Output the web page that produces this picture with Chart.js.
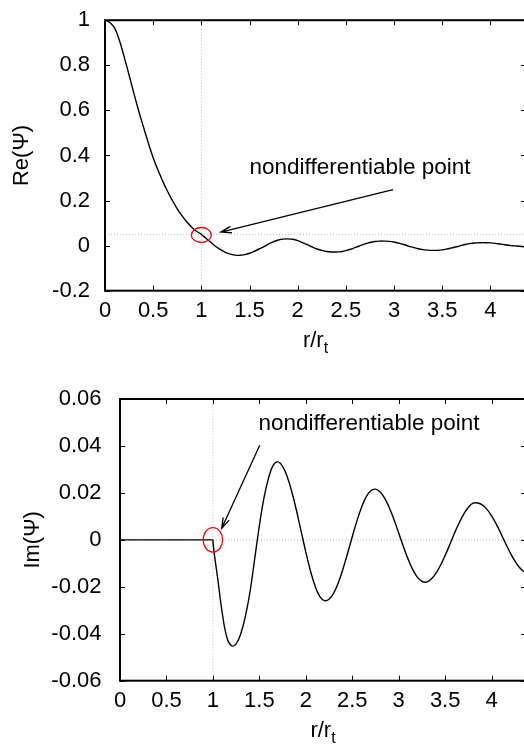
<!DOCTYPE html>
<html>
<head>
<meta charset="utf-8">
<script src="https://cdn.jsdelivr.net/npm/chart.js@4.4.0/dist/chart.umd.min.js"></script>
<style>
html, body { margin: 0; padding: 0; background: #fff; overflow: hidden; }
body { width: 524px; height: 748px; position: relative; }
canvas { position: absolute; left: 0; }
#reChart { top: 0; }
#imChart { top: 370px; }
</style>
</head>
<body>
<canvas id="reChart" width="527" height="370"></canvas>
<canvas id="imChart" width="527" height="378"></canvas>
<script>
// r/r_t grid of the real part
const reR = [0, 0.05, 0.1, 0.15, 0.2, 0.25, 0.3, 0.35, 0.4, 0.45, 0.5, 0.55, 0.6, 0.65, 0.7, 0.75, 0.8, 0.85, 0.9, 0.95,
  1, 1.05, 1.1, 1.15, 1.2, 1.25, 1.3, 1.35, 1.4, 1.45, 1.5, 1.55, 1.6, 1.65, 1.7, 1.75, 1.8, 1.85, 1.9, 1.95,
  2, 2.05, 2.1, 2.15, 2.2, 2.25, 2.3, 2.35, 2.4, 2.45, 2.5, 2.55, 2.6, 2.65, 2.7, 2.75, 2.8, 2.85, 2.9, 2.95,
  3, 3.05, 3.1, 3.15, 3.2, 3.25, 3.3, 3.35, 3.4, 3.45, 3.5, 3.55, 3.6, 3.65, 3.7, 3.75, 3.8, 3.85, 3.9, 3.95,
  4, 4.05, 4.1, 4.15, 4.2, 4.25, 4.3, 4.35];
// Re(Psi)
const reVals = [1, 0.99, 0.965, 0.91, 0.835, 0.757, 0.675, 0.597, 0.525, 0.455, 0.39, 0.335, 0.285, 0.24, 0.2, 0.163, 0.132, 0.105, 0.082, 0.064,
  0.05, 0.032, 0.014, -0.004, -0.018, -0.03, -0.038, -0.042, -0.043, -0.04, -0.034, -0.025, -0.015, -0.004, 0.008, 0.018, 0.025, 0.029, 0.03, 0.028,
  0.022, 0.013, 0.004, -0.006, -0.015, -0.021, -0.026, -0.028, -0.028, -0.027, -0.022, -0.016, -0.008, 0, 0.008, 0.014, 0.018, 0.02, 0.02, 0.019,
  0.016, 0.011, 0.005, -0.002, -0.008, -0.014, -0.018, -0.02, -0.021, -0.021, -0.019, -0.015, -0.01, -0.005, 0.001, 0.006, 0.01, 0.012, 0.013, 0.013,
  0.012, 0.01, 0.007, 0.004, 0.001, -0.001, -0.003, -0.005];

// r/r_t grid of the imaginary part (first 3 points: flat part up to r = r_t)
const imR = [0, 0.5, 1, 1.01, 1.05, 1.1, 1.15, 1.2, 1.25, 1.3, 1.35, 1.4, 1.45, 1.5, 1.55, 1.6, 1.65, 1.7, 1.75, 1.8, 1.85, 1.9, 1.95,
  2, 2.05, 2.1, 2.15, 2.2, 2.25, 2.3, 2.35, 2.4, 2.45, 2.5, 2.55, 2.6, 2.65, 2.7, 2.75, 2.8, 2.85, 2.9, 2.95,
  3, 3.05, 3.1, 3.15, 3.2, 3.25, 3.3, 3.35, 3.4, 3.45, 3.5, 3.55, 3.6, 3.65, 3.7, 3.75, 3.8, 3.85, 3.9, 3.95,
  4, 4.05, 4.1, 4.15, 4.2, 4.25, 4.3, 4.35];
// Im(Psi)
const imVals = [0, 0, 0, -0.0045, -0.016, -0.031, -0.0415, -0.0451, -0.0443, -0.04, -0.0325, -0.022, -0.008, 0.006, 0.018, 0.0265, 0.0318, 0.0332, 0.0313, 0.0269, 0.0204, 0.0124, 0.0036,
  -0.0052, -0.0132, -0.0197, -0.0241, -0.0259, -0.0253, -0.0227, -0.0183, -0.0124, -0.0057, 0.0013, 0.0081, 0.0139, 0.0183, 0.0209, 0.0216, 0.0204, 0.0177, 0.0136, 0.0086,
  0.0029, -0.0028, -0.0081, -0.0126, -0.0159, -0.0177, -0.018, -0.0167, -0.0143, -0.0108, -0.0066, -0.002, 0.0028, 0.0072, 0.011, 0.0139, 0.0156, 0.0157, 0.0149, 0.013,
  0.0102, 0.0067, 0.0027, -0.0015, -0.0055, -0.009, -0.0118, -0.0137];

// tick labels
const xTicks = [0, 0.5, 1, 1.5, 2, 2.5, 3, 3.5, 4];
const reYTicks = [-0.2, 0, 0.2, 0.4, 0.6, 0.8, 1];
const imYTicks = [-0.06, -0.04, -0.02, 0, 0.02, 0.04, 0.06];

// dotted guide lines
const guideR = 1;
const reGuideY = 0.05;
const imGuideY = 0;

const FONT = "'Liberation Sans', Arial, Helvetica, sans-serif";

function pts(xs, ys) {
  return xs.map((x, i) => ({x: x, y: ys[i]}));
}

// gnuplot like frame with inward ticks on all four sides
const framePlugin = {
  id: 'frame',
  afterDatasetsDraw(chart, args, opts) {
    const {ctx, chartArea: a, scales: {x, y}} = chart;
    ctx.save();
    ctx.strokeStyle = '#000';
    ctx.lineWidth = 1;
    ctx.beginPath();
    for (const v of xTicks) {
      const px = Math.round(x.getPixelForValue(v)) + 0.5;
      ctx.moveTo(px, a.bottom); ctx.lineTo(px, a.bottom - 5);
      ctx.moveTo(px, a.top); ctx.lineTo(px, a.top + 5);
    }
    for (const v of opts.yTicks) {
      const py = Math.round(y.getPixelForValue(v)) + 0.5;
      ctx.moveTo(a.left, py); ctx.lineTo(a.left + 5, py);
      ctx.moveTo(a.right, py); ctx.lineTo(a.right - 5, py);
    }
    ctx.stroke();
    ctx.lineWidth = 2;
    ctx.strokeRect(a.left, a.top, a.right - a.left, a.bottom - a.top);
    ctx.restore();
  }
};

// axis titles, note text, arrow and red marker
const notePlugin = {
  id: 'note',
  afterDraw(chart, args, o) {
    const {ctx, chartArea: a, scales: {x, y}} = chart;
    ctx.save();
    ctx.fillStyle = '#000';

    // y title
    ctx.save();
    ctx.translate(o.yTitleX, (a.top + a.bottom) / 2);
    ctx.rotate(-Math.PI / 2);
    ctx.font = '22px ' + FONT;
    ctx.textAlign = 'center';
    ctx.textBaseline = 'middle';
    ctx.fillText(o.yTitle, 0, 0);
    ctx.restore();

    // x title r/r_t
    ctx.font = '22px ' + FONT;
    const w1 = ctx.measureText('r/r').width;
    ctx.font = '16px ' + FONT;
    const w2 = ctx.measureText('t').width;
    let x0 = (a.left + a.right) / 2 - (w1 + w2) / 2;
    ctx.textAlign = 'left';
    ctx.textBaseline = 'alphabetic';
    ctx.font = '22px ' + FONT;
    ctx.fillText('r/r', x0, o.xTitleY);
    ctx.font = '16px ' + FONT;
    ctx.fillText('t', x0 + w1, o.xTitleY + 6);

    // note text
    ctx.font = '22.5px ' + FONT;
    ctx.fillText('nondifferentiable point', x.getPixelForValue(o.text[0]), y.getPixelForValue(o.text[1]));

    // arrow
    const sx = x.getPixelForValue(o.arrow[0]), sy = y.getPixelForValue(o.arrow[1]);
    const ex = x.getPixelForValue(o.arrow[2]), ey = y.getPixelForValue(o.arrow[3]);
    const ang = Math.atan2(ey - sy, ex - sx);
    ctx.strokeStyle = '#000';
    ctx.lineWidth = 1.3;
    ctx.beginPath();
    ctx.moveTo(sx, sy); ctx.lineTo(ex, ey);
    ctx.moveTo(ex - 11 * Math.cos(ang - 0.3), ey - 11 * Math.sin(ang - 0.3));
    ctx.lineTo(ex, ey);
    ctx.lineTo(ex - 11 * Math.cos(ang + 0.3), ey - 11 * Math.sin(ang + 0.3));
    ctx.stroke();

    // red ellipse
    ctx.strokeStyle = '#f00';
    ctx.beginPath();
    ctx.ellipse(x.getPixelForValue(o.ring[0]), y.getPixelForValue(o.ring[1]), o.ring[2], o.ring[3], 0, 0, Math.PI * 2);
    ctx.stroke();
    ctx.restore();
  }
};

function curve(data, tension) {
  return {
    data: data,
    borderColor: '#000',
    borderWidth: 1.4,
    pointRadius: 0,
    tension: tension,
    fill: false
  };
}

function guide(data) {
  return {
    data: data,
    borderColor: '#b8b8b8',
    borderWidth: 1,
    borderDash: [1, 2],
    pointRadius: 0
  };
}

function makeChart(id, c) {
  const ctx = document.getElementById(id).getContext('2d');
  const all = pts(c.xs, c.ys);
  const sets = c.flatCount
    ? [curve(all.slice(0, c.flatCount), 0), curve(all.slice(c.flatCount - 1), 0.4)]
    : [curve(all, 0.4)];
  sets.push(guide([{x: guideR, y: c.yMin}, {x: guideR, y: c.yMax}]));
  sets.push(guide([{x: 0, y: c.guideY}, {x: c.xMax, y: c.guideY}]));
  return new Chart(ctx, {
    type: 'line',
    data: {datasets: sets},
    options: {
      responsive: false,
      animation: false,
      devicePixelRatio: 1,
      layout: {padding: {top: c.padTop, right: 1, left: 0, bottom: 0}},
      plugins: {
        legend: {display: false},
        tooltip: {enabled: false},
        frame: {yTicks: c.yTicks},
        note: c.note
      },
      scales: {
        x: {
          type: 'linear',
          min: 0,
          max: c.xMax,
          afterBuildTicks: s => { s.ticks = xTicks.map(v => ({value: v})); },
          afterFit: s => { s.height = c.xAxisHeight; },
          grid: {display: false},
          border: {display: false},
          ticks: {
            color: '#000',
            font: {family: FONT, size: 22},
            padding: c.xPad,
            maxRotation: 0,
            autoSkip: false,
            callback: v => String(v)
          }
        },
        y: {
          type: 'linear',
          min: c.yMin,
          max: c.yMax,
          afterBuildTicks: s => { s.ticks = c.yTicks.map(v => ({value: v})); },
          afterFit: s => { s.width = c.yAxisWidth; },
          grid: {display: false},
          border: {display: false},
          ticks: {
            color: '#000',
            font: {family: FONT, size: 22},
            padding: c.yPad,
            autoSkip: false,
            callback: v => String(v)
          }
        }
      }
    },
    plugins: [framePlugin, notePlugin]
  });
}

makeChart('reChart', {
  xs: reR, ys: reVals, yTicks: reYTicks,
  yMin: -0.2, yMax: 1, xMax: 4.37, guideY: reGuideY,
  padTop: 8.7, xAxisHeight: 79.3, yAxisWidth: 105, xPad: -1, yPad: 7,
  note: {
    yTitle: 'Re(\u03A8)', yTitleX: 22, xTitleY: 346.7,
    text: [1.5, 0.319],
    arrow: [2.99, 0.248, 1.203, 0.06],
    ring: [1, 0.047, 10, 7.5]
  }
});

makeChart('imChart', {
  xs: imR, ys: imVals, yTicks: imYTicks, flatCount: 3,
  yMin: -0.06, yMax: 0.06, xMax: 4.37, guideY: imGuideY,
  padTop: 29, xAxisHeight: 67.3, yAxisWidth: 120, xPad: -1, yPad: 10.5,
  note: {
    yTitle: 'Im(\u03A8)', yTitleX: 32.5, xTitleY: 366.7,
    text: [1.49, 0.047],
    arrow: [1.504, 0.0403, 1.095, 0.0049],
    ring: [1, 0, 9.7, 12.2]
  }
});
</script>
</body>
</html>
